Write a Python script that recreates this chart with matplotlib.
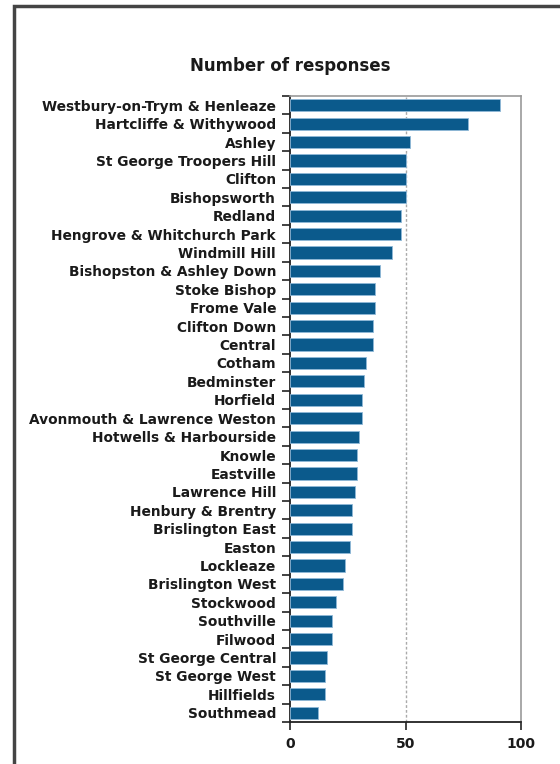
import matplotlib
matplotlib.use("Agg")
import matplotlib.pyplot as plt
from matplotlib.patches import Rectangle
import numpy as np

# ward names, top to bottom as shown
wards = ["Westbury-on-Trym & Henleaze", "Hartcliffe & Withywood", "Ashley",
         "St George Troopers Hill", "Clifton", "Bishopsworth", "Redland",
         "Hengrove & Whitchurch Park", "Windmill Hill", "Bishopston & Ashley Down",
         "Stoke Bishop", "Frome Vale", "Clifton Down", "Central", "Cotham",
         "Bedminster", "Horfield", "Avonmouth & Lawrence Weston",
         "Hotwells & Harbourside", "Knowle", "Eastville", "Lawrence Hill",
         "Henbury & Brentry", "Brislington East", "Easton", "Lockleaze",
         "Brislington West", "Stockwood", "Southville", "Filwood",
         "St George Central", "St George West", "Hillfields", "Southmead"]
responses = [91, 77, 52, 50, 50, 50, 48, 48, 44, 39, 37, 37, 36, 36, 33, 32, 31, 31,
             30, 29, 29, 28, 27, 27, 26, 24, 23, 20, 18, 18, 16, 15, 15, 12]
xticks = [0, 50, 100]

plt.rcParams['font.family'] = ['DejaVu Sans']
plt.rcParams['font.weight'] = 'bold'

fig = plt.figure(figsize=(5.6, 7.64), dpi=100)
ax = fig.add_axes([290/560, 1 - 722/764, (521-290)/560, (722-96)/764])

n = len(wards)
y = np.arange(n)
ax.barh(y, responses, height=0.66, color="#0b5a8c", edgecolor="#8fb8d8", linewidth=0.6, zorder=3)
ax.set_ylim(n - 0.5, -0.5)
ax.set_xlim(0, 100)

ax.set_yticks(y)
ax.set_yticklabels(wards, fontsize=9.9, fontweight='bold', color="#1a1a1a")
ax.set_yticks(np.arange(n + 1) - 0.5, minor=True)
ax.tick_params(axis='y', which='major', length=0, pad=10)
ax.tick_params(axis='y', which='minor', length=6, width=1.2, color="#222222", direction='out')

ax.set_xticks(xticks)
ax.set_xticklabels([str(v) for v in xticks], fontsize=10, fontweight='bold', color="#1a1a1a")
ax.tick_params(axis='x', length=6, width=1.2, color="#222222", direction='out', pad=5)

ax.axvline(50, color="#aaaaaa", linestyle=(0, (2, 1.5)), linewidth=1, zorder=1)
for s in ['top', 'right']:
    ax.spines[s].set_color("#9a9a9a")
    ax.spines[s].set_linewidth(1.2)
for s in ['left', 'bottom']:
    ax.spines[s].set_color("#222222")
    ax.spines[s].set_linewidth(1.3)

fig.text(290/560, 1 - 66/764, "Number of responses", ha='center', va='center',
         fontsize=12, fontweight='bold', color="#1a1a1a")

# page frame
fig.add_artist(Rectangle((14/560, -0.1), 1.2, 1.1 - 6/764, transform=fig.transFigure,
                         fill=False, edgecolor="#444444", linewidth=2.5))

fig.savefig("out.png", dpi=100)
